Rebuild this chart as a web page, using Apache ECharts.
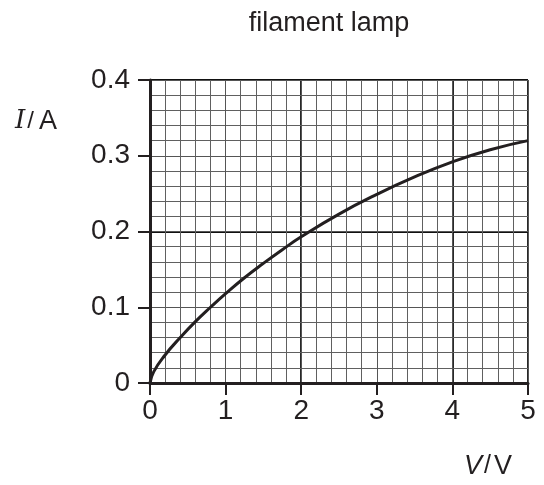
<!DOCTYPE html>
<html>
<head>
<meta charset="utf-8">
<script src="https://cdn.jsdelivr.net/npm/echarts@6/dist/echarts.min.js"></script>
<style>
  html, body { margin: 0; padding: 0; background: #fff; }
  #chart { width: 544px; height: 485px; }
</style>
</head>
<body>
<div id="chart"></div>
<script>
// readings, V in volts, I in amps
var voltage = [0, 0.05, 0.2, 0.4, 0.6, 0.8, 1.0, 1.25, 1.5, 1.75, 2.0, 2.5, 3.0, 3.5, 4.0, 4.5, 5.0];
var current = [0, 0.015, 0.037, 0.060, 0.081, 0.100, 0.118, 0.139, 0.158, 0.176, 0.193, 0.223, 0.249, 0.272, 0.292, 0.308, 0.320];
var titleText = "filament lamp";

var ink = "#231f20";
var font = "Liberation Sans, Arial, sans-serif";

var points = [];
for (var i = 0; i < voltage.length; i++) {
  points.push([voltage[i], current[i]]);
}

var myChart = echarts.init(document.getElementById("chart"));

var option = {
  animation: false,
  title: {
    text: titleText,
    left: 324,
    top: 5,
    textAlign: "center",
    textStyle: { color: ink, fontSize: 27, fontWeight: "normal", fontFamily: font }
  },
  grid: { left: 150, top: 80, right: 16, bottom: 102 },
  xAxis: [
    {
      type: "value",
      min: 0, max: 5, interval: 1,
      axisLine: { show: true, lineStyle: { color: ink, width: 3 } },
      axisTick: { show: true, length: 12, lineStyle: { color: ink, width: 2 } },
      axisLabel: { color: ink, fontSize: 28, fontFamily: font, margin: 14 },
      splitLine: { show: true, lineStyle: { color: "#555", width: 1 } },
      minorTick: { show: false, splitNumber: 5 },
      minorSplitLine: { show: true, lineStyle: { color: "#606060", width: 1 } },
      z: 5
    },
    {
      // every 2 V a heavier line
      type: "value",
      min: 0, max: 5, interval: 2,
      axisLine: { show: false }, axisTick: { show: false }, axisLabel: { show: false },
      splitLine: { show: true, lineStyle: { color: "#111", width: 1.8 } }
    }
  ],
  yAxis: [
    {
      type: "value",
      min: 0, max: 0.4, interval: 0.1,
      axisLine: { show: true, lineStyle: { color: ink, width: 3 } },
      axisTick: { show: true, length: 12, lineStyle: { color: ink, width: 2 } },
      axisLabel: { color: ink, fontSize: 28, fontFamily: font, margin: 20 },
      splitLine: { show: true, lineStyle: { color: "#555", width: 1 } },
      minorTick: { show: false, splitNumber: 5 },
      minorSplitLine: { show: true, lineStyle: { color: "#606060", width: 1 } },
      z: 5
    },
    {
      type: "value",
      min: 0, max: 0.4, interval: 0.2,
      axisLine: { show: false }, axisTick: { show: false }, axisLabel: { show: false },
      splitLine: { show: true, lineStyle: { color: "#111", width: 1.8 } }
    }
  ],
  graphic: [
    {
      type: "text", left: 15, top: 108,
      style: {
        text: "{i|I}{s|/}{n|A}",
        rich: {
          i: { fontSize: 26, fontStyle: "italic", fontFamily: "DejaVu Serif, serif", fill: ink },
          s: { fontSize: 24, fontFamily: font, fill: ink, padding: [0, 5, 0, 2] },
          n: { fontSize: 27, fontFamily: font, fill: ink }
        }
      }
    },
    {
      type: "text", left: 464, top: 453,
      style: {
        text: "{i|V}{s|/}{n|V}",
        rich: {
          i: { fontSize: 27, fontStyle: "italic", fontFamily: font, fill: ink },
          s: { fontSize: 25, fontFamily: font, fill: ink, padding: [0, 3, 0, 2] },
          n: { fontSize: 27, fontFamily: font, fill: ink }
        }
      }
    }
  ],
  series: [
    {
      type: "line",
      data: points,
      smooth: true,
      showSymbol: false,
      lineStyle: { color: ink, width: 3 },
      z: 10
    }
  ]
};

myChart.setOption(option);
</script>
</body>
</html>
